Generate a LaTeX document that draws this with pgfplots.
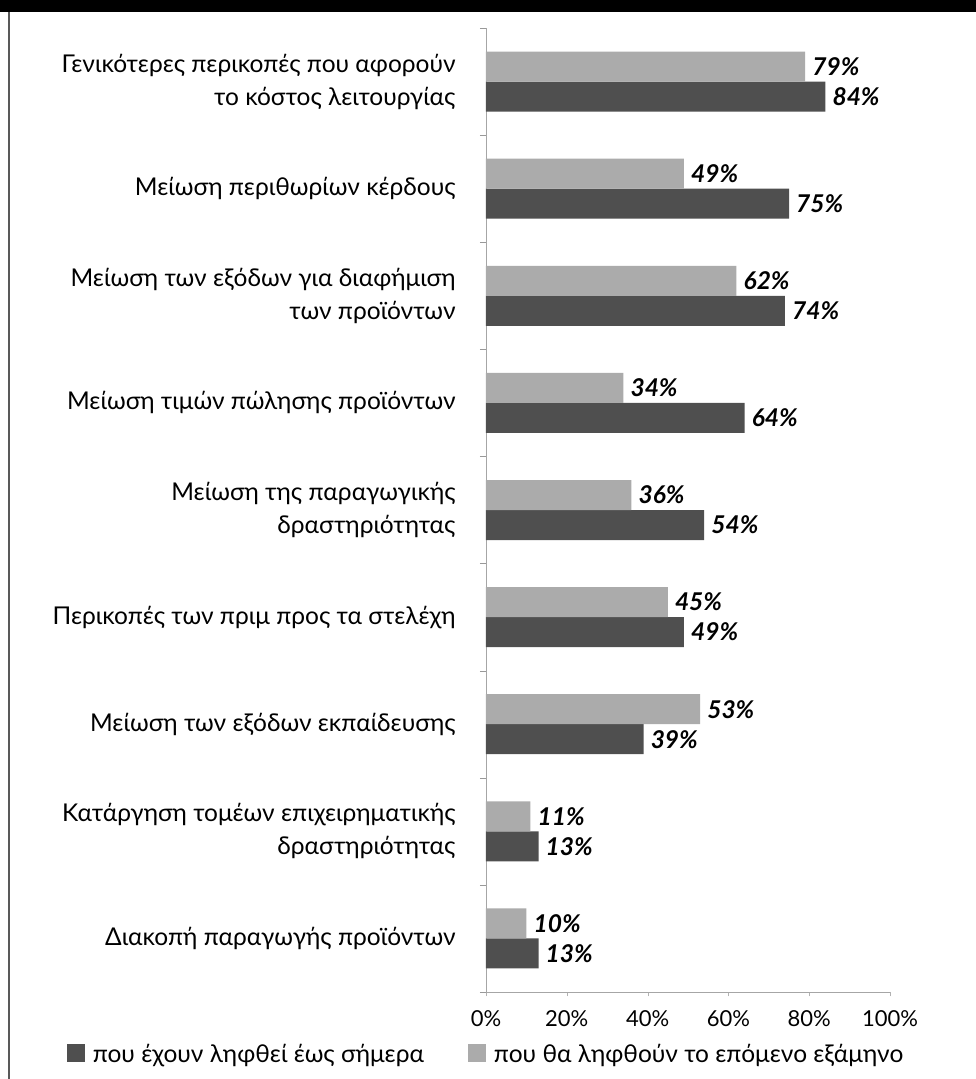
\documentclass[border=0pt]{standalone}
\usepackage{pgfplots}
\pgfplotsset{compat=1.18}
\usepackage{fontspec}
\setmainfont{Lato}
\definecolor{darkbar}{HTML}{4F4F4F}
\definecolor{lightbar}{HTML}{ABABAB}
\begin{document}
\begin{tikzpicture}
\path[use as bounding box] (0,0) rectangle (976pt,1079pt);
\fill[black] (0,1067pt) rectangle (976pt,1079pt);
\draw[line width=1.8pt, color=black!65] (9pt,0) -- (9pt,1067pt);
\begin{axis}[
  at={(486pt,87pt)}, anchor=south west,
  scale only axis, width=404pt, height=964pt,
  xbar, bar width=0.28,
  y dir=reverse,
  ymin=-0.5, ymax=8.5, xmin=0, xmax=100,
  axis x line*=bottom, axis y line*=left,
  axis line style={draw=black!35, line width=0.8pt},
  font=\fontsize{24.5}{33}\selectfont,
  /pgf/number format/assume math mode=true,
  xtick={0,20,40,60,80,100},
  xticklabel={\pgfmathprintnumber{\tick}\%},
  xticklabel style={yshift=-11pt, font=\fontsize{22}{26}\selectfont},
  major x tick style={draw=black!30},
  ytick={0,1,2,3,4,5,6,7,8},
  yticklabels={Γενικότερες περικοπές που αφορούν\\το κόστος λειτουργίας,
    Μείωση περιθωρίων κέρδους,
    Μείωση των εξόδων για διαφήμιση\\των προϊόντων,
    Μείωση τιμών πώλησης προϊόντων,
    Μείωση της παραγωγικής\\δραστηριότητας,
    Περικοπές των πριμ προς τα στελέχη,
    Μείωση των εξόδων εκπαίδευσης,
    Κατάργηση τομέων επιχειρηματικής\\δραστηριότητας,
    Διακοπή παραγωγής προϊόντων},
  yticklabel style={align=right, inner sep=0pt, xshift=-26pt},
  major y tick style={draw=none},
  minor ytick={-0.5,0.5,...,8.5},
  minor y tick style={draw=black!40},
  minor tick length=6pt,
  tick align=outside,
  nodes near coords={\pgfmathprintnumber{\pgfplotspointmeta}\%},
  nodes near coords style={font=\fontsize{24.5}{26}\selectfont\bfseries\itshape, inner sep=2pt, xshift=5pt},
  point meta=x,
  legend style={at={(0,-0.064)}, anchor=center, draw=none, fill=none,
    legend columns=2, font=\fontsize{24.5}{28}\selectfont,
    /tikz/every even column/.append style={column sep=42pt}},
  legend cell align=left,
  legend image code/.code={\fill[#1] (0pt,-8pt) rectangle (18pt,10pt); \path (24pt,0pt);},
]
\addplot[fill=darkbar, draw=none, bar shift=0.14] coordinates {
(84,0) (75,1) (74,2) (64,3) (54,4) (49,5) (39,6) (13,7) (13,8)};
\addplot[fill=lightbar, draw=none, bar shift=-0.14] coordinates {
(79,0) (49,1) (62,2) (34,3) (36,4) (45,5) (53,6) (11,7) (10,8)};
\legend{που έχουν ληφθεί έως σήμερα, που θα ληφθούν το επόμενο εξάμηνο}
\end{axis}
\end{tikzpicture}
\end{document}
